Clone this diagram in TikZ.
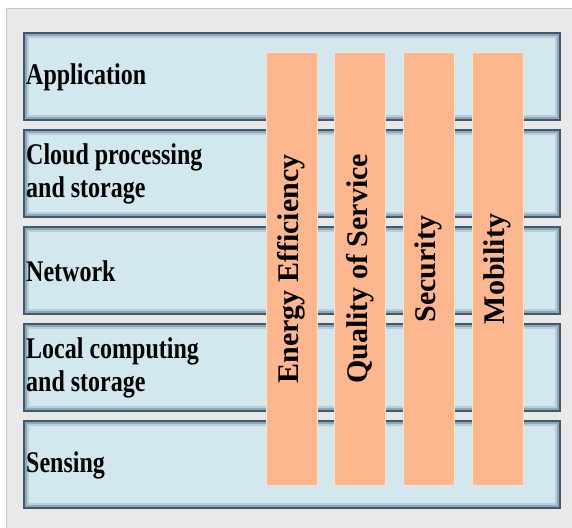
\documentclass[tikz,border=0pt]{standalone}
\usepackage{fontspec}
\newfontfamily\labfont[FakeStretch=0.8]{Liberation Serif}
\newfontfamily\barfont{Liberation Serif}
\definecolor{bgGrey}{HTML}{E9E9E9}
\definecolor{frameBlue}{HTML}{B2CBE0}
\definecolor{layerFill}{HTML}{D2E7EE}
\definecolor{layerLine}{HTML}{3E5870}
\definecolor{barFill}{HTML}{FDB78E}
\definecolor{barLine}{HTML}{FBE3D3}
\tikzset{
  layerbox/.style={draw=layerLine, line width=2pt, fill=layerFill, anchor=north west,
    minimum width=536pt, minimum height=87pt, inner sep=0pt,
    path picture={
      \draw[layerLine!45!layerFill, line width=2pt]
        ([shift={(2pt,-2pt)}]path picture bounding box.north west) rectangle
        ([shift={(-2pt,2pt)}]path picture bounding box.south east);
      \draw[layerLine!18!layerFill, line width=2pt]
        ([shift={(4pt,-4pt)}]path picture bounding box.north west) rectangle
        ([shift={(-4pt,4pt)}]path picture bounding box.south east);
    }},
  labeltext/.style={anchor=west, inner sep=0pt, align=left,
    font=\labfont\bfseries\fontsize{30}{33}\selectfont},
  barbox/.style={draw=barLine, line width=1pt, fill=barFill, rotate=90,
    minimum width=432pt, minimum height=51pt, inner sep=0pt,
    font=\barfont\bfseries\fontsize{30}{33}\selectfont}
}
\begin{document}
\begin{tikzpicture}[x=1pt,y=-1pt]
\useasboundingbox (0,0) rectangle (572,527);
\fill[white] (0,0) rectangle (572,527);
\draw[frameBlue, line width=1pt, fill=bgGrey] (6,9) rectangle (576,540);

\node[layerbox] (l1) at (23,32) {};
\node[layerbox] (l2) at (23,129) {};
\node[layerbox] (l3) at (23,226) {};
\node[layerbox] (l4) at (23,323) {};
\node[layerbox] (l5) at (23,420) {};

\node[labeltext] (t1) at (26,77) {Application};
\node[labeltext] (t2) at (26,174) {Cloud processing\\and storage};
\node[labeltext] (t3) at (26,271) {Network};
\node[labeltext] (t4) at (26,368) {Local computing\\and storage};
\node[labeltext] (t5) at (26,465) {Sensing};

\node[barbox] (b1) at (291.5,269) {Energy Efficiency};
\node[barbox] (b2) at (360,269) {Quality of Service};
\node[barbox] (b3) at (428.5,269) {Security};
\node[barbox] (b4) at (497.5,269) {Mobility};
\end{tikzpicture}
\end{document}
